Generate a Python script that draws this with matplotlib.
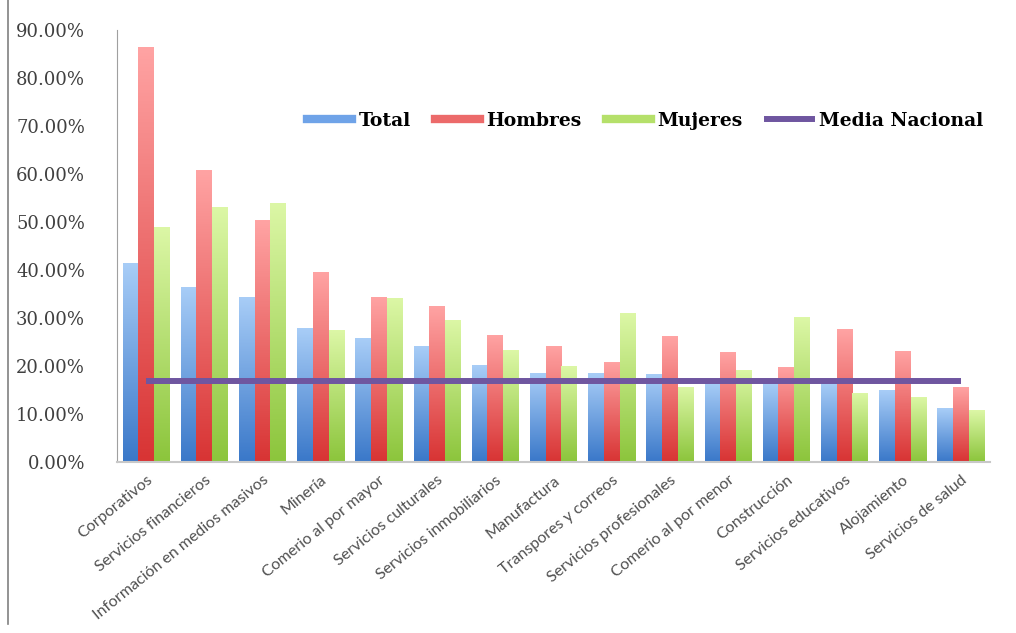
import numpy as np
import matplotlib
matplotlib.use("Agg")
import matplotlib.pyplot as plt
from matplotlib.lines import Line2D
from matplotlib.colors import LinearSegmentedColormap
from matplotlib.ticker import FuncFormatter

categories = ["Corporativos", "Servicios financieros", "Información en medios masivos",
              "Minería", "Comerio al por mayor", "Servicios culturales",
              "Servicios inmobiliarios", "Manufactura", "Transpores y correos",
              "Servicios profesionales", "Comerio al por menor", "Construcción",
              "Servicios educativos", "Alojamiento", "Servicios de salud"]
total = [41.5, 36.5, 34.4, 27.9, 25.8, 24.2, 20.2, 18.5, 18.5, 18.3, 16.5, 16.5, 16.5, 15.0, 11.2]
hombres = [86.5, 60.8, 50.4, 39.6, 34.4, 32.6, 26.5, 24.2, 20.9, 26.2, 23.0, 19.8, 27.7, 23.2, 15.6]
mujeres = [49.0, 53.2, 54.0, 27.5, 34.2, 29.6, 23.3, 19.9, 31.0, 15.7, 19.2, 30.2, 14.4, 13.6, 10.8]
media_nacional = [16.8] * len(categories)
yticks = [0, 10, 20, 30, 40, 50, 60, 70, 80, 90]

fig = plt.figure(figsize=(10.16, 6.33), dpi=100)
ax = fig.add_axes([117/1016, 1-462/633, (990-117)/1016, (462-30)/633])

x = np.arange(len(categories))
w = 0.27
series = [
    (total, -w, "#a8cdf7", "#3a78c9", "Total"),
    (hombres, 0.0, "#ffa3a3", "#d83434", "Hombres"),
    (mujeres, w, "#dcf7a6", "#8cc53c", "Mujeres"),
]
for vals, off, ctop, cbot, lab in series:
    bars = ax.bar(x + off, vals, width=w, color="none", edgecolor="none", zorder=2)
    cmap = LinearSegmentedColormap.from_list(lab, [cbot, ctop])
    grad = np.linspace(0, 1, 100).reshape(-1, 1)
    for b in bars:
        x0, y0 = b.get_x(), b.get_y()
        bw, bh = b.get_width(), b.get_height()
        im = ax.imshow(grad, cmap=cmap, origin="lower", aspect="auto",
                       extent=(x0, x0 + bw, y0, y0 + bh), zorder=2, interpolation="bilinear")
        im.set_clip_path(b)

ax.plot(x, media_nacional, color="#6f56a0", lw=4.3, zorder=3, solid_capstyle="butt")

ax.set_xlim(-0.5, len(categories) - 0.5)
ax.set_ylim(0, 90)
ax.set_yticks(yticks)
ax.yaxis.set_major_formatter(FuncFormatter(lambda v, p: f"{v:.2f}%"))
ax.tick_params(axis="y", length=0, pad=23, labelsize=13, labelcolor="#404040")
for t in ax.get_yticklabels():
    t.set_fontfamily("DejaVu Serif")
ax.set_xticks(x)
ax.set_xticklabels(categories, rotation=39, ha="right", rotation_mode="anchor",
                   fontsize=11.5, color="#505050", family="Lato")
ax.tick_params(axis="x", length=0, pad=8)

for s in ["top", "right"]:
    ax.spines[s].set_visible(False)
ax.spines["left"].set_color("#a0a0a0")
ax.spines["bottom"].set_color("#c8c8c8")
ax.spines["bottom"].set_linewidth(1.5)

handles = [
    Line2D([], [], color="#6fa3e8", lw=6),
    Line2D([], [], color="#ec6a6a", lw=6),
    Line2D([], [], color="#b5e06a", lw=6),
    Line2D([], [], color="#6f56a0", lw=4.3),
]
labels = ["Total", "Hombres", "Mujeres", "Media Nacional"]
fig.legend(handles, labels, loc="center", bbox_to_anchor=(645/1016, 1-121/633), ncol=4,
           frameon=False, handlelength=2.4, handletextpad=0.35, columnspacing=1.3,
           prop={"family": "DejaVu Serif", "weight": "bold", "size": 13.5})

fig.add_artist(Line2D([8/1016, 8/1016], [0.015, 1.0], color="#808080", lw=1.2,
                      transform=fig.transFigure))

fig.savefig("out.png", dpi=100)
